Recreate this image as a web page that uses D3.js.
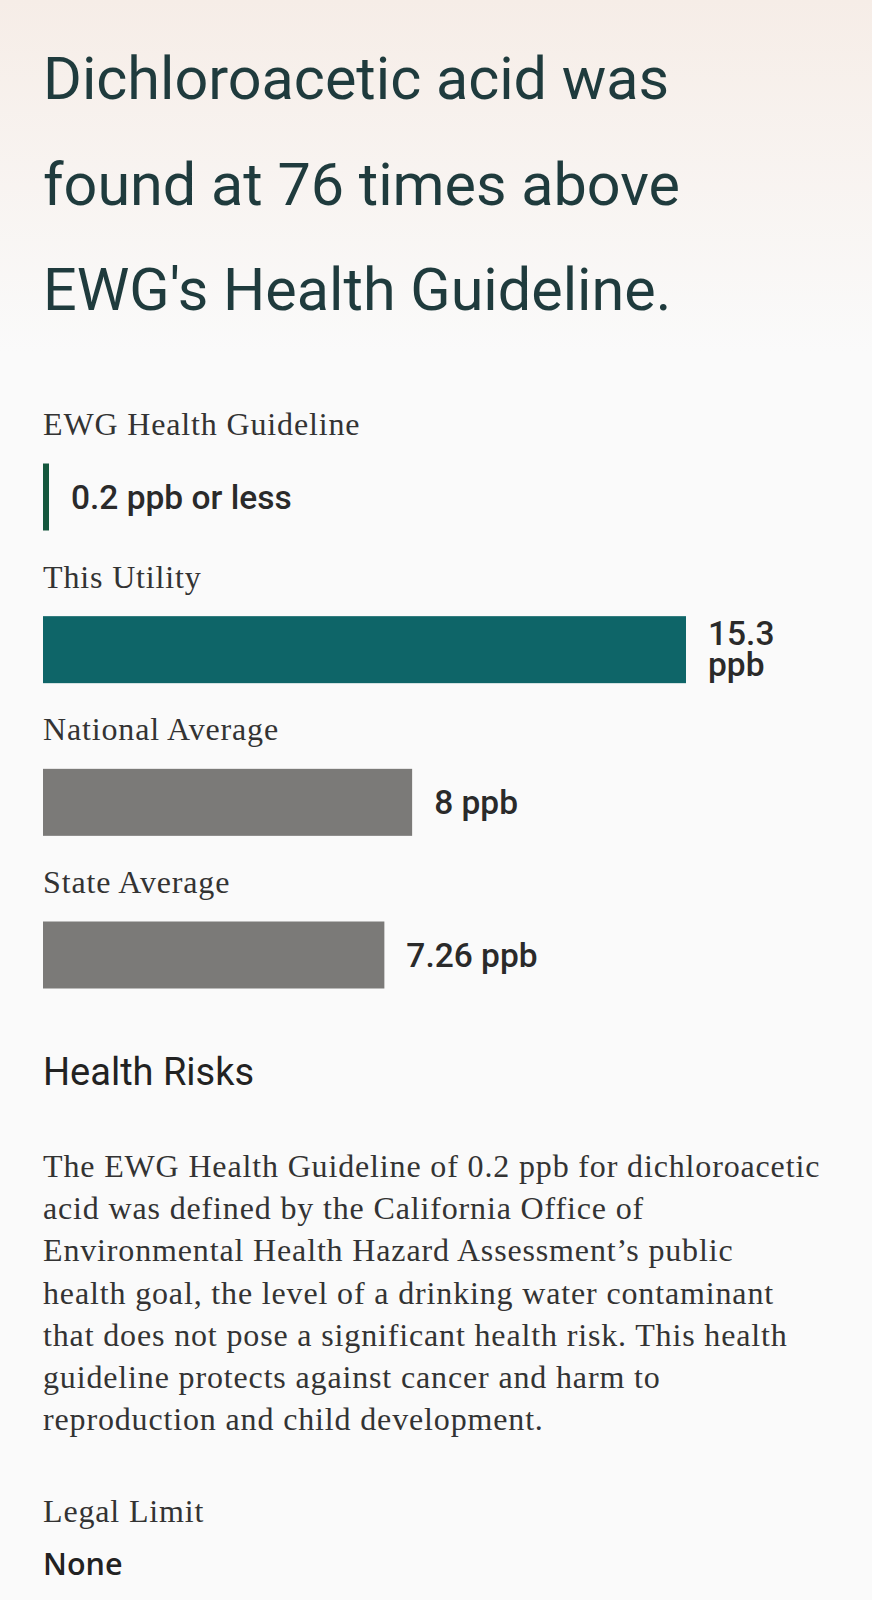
<!DOCTYPE html>
<html>
<head>
<meta charset="utf-8">
<script src="https://cdn.jsdelivr.net/npm/d3@7"></script>
<style>
  body { margin: 0; background: #fafafa; }
  svg { display: block; }
</style>
</head>
<body>
<div id="chart"></div>
<script>
// Chart content
const titleLines = ["Dichloroacetic acid was", "found at 76 times above", "EWG's Health Guideline."];
const guidelineLabel = "EWG Health Guideline";
const guidelineText = "0.2 ppb or less";
const categories = ["This Utility", "National Average", "State Average"];
const values = [15.3, 8, 7.26];
const units = ["ppb", "ppb", "ppb"];
const barColors = ["#0e6568", "#7b7a78", "#7b7a78"];
const risksHeading = "Health Risks";
const risksLines = [
    "The EWG Health Guideline of 0.2 ppb for dichloroacetic",
    "acid was defined by the California Office of",
    "Environmental Health Hazard Assessment\u2019s public",
    "health goal, the level of a drinking water contaminant",
    "that does not pose a significant health risk. This health",
    "guideline protects against cancer and harm to",
    "reproduction and child development."
];
const legalLabel = "Legal Limit";
const legalValue = "None";

const width = 872, height = 1600;
const left = 43;
const serif = "'Liberation Serif', 'DejaVu Serif', serif";
const sans = "Roboto, 'Noto Sans', sans-serif";

const svg = d3.select('#chart').append('svg')
    .attr('width', width)
    .attr('height', height);

// Soft peach wash at the top of the card
const grad = svg.append('defs').append('linearGradient')
    .attr('id', 'bg')
    .attr('x1', 0).attr('y1', 0).attr('x2', 0).attr('y2', 1);
grad.append('stop').attr('offset', '0%').attr('stop-color', '#f6ede7');
grad.append('stop').attr('offset', '22%').attr('stop-color', '#fafafa');
grad.append('stop').attr('offset', '100%').attr('stop-color', '#fafafa');
svg.append('rect').attr('width', width).attr('height', height).attr('fill', 'url(#bg)');

// Title
svg.append('g').selectAll('text')
    .data(titleLines)
    .enter().append('text')
    .attr('x', left)
    .attr('y', (d, i) => 99 + i * 105.5)
    .style('font-family', sans)
    .style('font-size', '59.3px')
    .style('fill', '#1f3b3d')
    .text(d => d);

// Rows: guideline + bar categories, one label per row
const rows = [guidelineLabel, ...categories];
const rowY = d3.scalePoint().domain(rows).range([435, 893]);

const serifText = sel => sel
    .style('font-family', serif)
    .style('font-size', '32px')
    .style('letter-spacing', '0.85px')
    .style('fill', '#333');

svg.append('g').selectAll('text')
    .data(rows)
    .enter().append('text')
    .attr('x', left)
    .attr('y', d => rowY(d))
    .call(serifText)
    .text(d => d);

const barTop = 28.5, barH = 67;
const valueFont = sel => sel
    .style('font-family', sans)
    .style('font-size', '33.5px')
    .style('font-weight', '500')
    .style('fill', '#2a2a2a');

// Guideline marker
svg.append('rect')
    .attr('x', left)
    .attr('y', rowY(guidelineLabel) + barTop)
    .attr('width', 6)
    .attr('height', barH)
    .attr('fill', '#14573d');
svg.append('text')
    .attr('x', left + 28)
    .attr('y', rowY(guidelineLabel) + barTop + 45)
    .call(valueFont)
    .text(guidelineText);

// Bars
const x = d3.scaleLinear()
    .domain([0, d3.max(values)])
    .range([left + 69, 686]);

const bars = svg.append('g').selectAll('g')
    .data(categories.map((c, i) => ({ c, v: values[i], u: units[i], color: barColors[i] })))
    .enter().append('g');

bars.append('rect')
    .attr('x', left)
    .attr('y', d => rowY(d.c) + barTop)
    .attr('width', d => x(d.v) - left)
    .attr('height', barH)
    .attr('fill', d => d.color);

bars.each(function (d) {
    const g = d3.select(this);
    const tx = x(d.v) + 22;
    const top = rowY(d.c) + barTop;
    const t = g.append('text').attr('x', tx).call(valueFont).text(`${d.v} ${d.u}`);
    const w = t.node().getComputedTextLength();
    if (tx + w > 800) {
        // wrap onto two lines when the label runs past the card edge
        t.attr('y', top + 29).text(String(d.v));
        g.append('text').attr('x', tx).attr('y', top + 60).call(valueFont).text(d.u);
    } else {
        t.attr('y', top + 45);
    }
});

// Health risks
svg.append('text')
    .attr('x', left)
    .attr('y', 1085)
    .style('font-family', sans)
    .style('font-size', '38px')
    .style('font-weight', '400')
    .style('fill', '#222')
    .text(risksHeading);

svg.append('g').selectAll('text')
    .data(risksLines)
    .enter().append('text')
    .attr('x', left)
    .attr('y', (d, i) => 1177 + i * 42.2)
    .call(serifText)
    .text(d => d);

// Legal limit
svg.append('text')
    .attr('x', left)
    .attr('y', 1522)
    .call(serifText)
    .text(legalLabel);

svg.append('text')
    .attr('x', left)
    .attr('y', 1575)
    .style('font-family', "'Open Sans', sans-serif")
    .style('font-size', '30.5px')
    .style('font-weight', '600')
    .style('fill', '#222')
    .text(legalValue);
</script>
</body>
</html>
